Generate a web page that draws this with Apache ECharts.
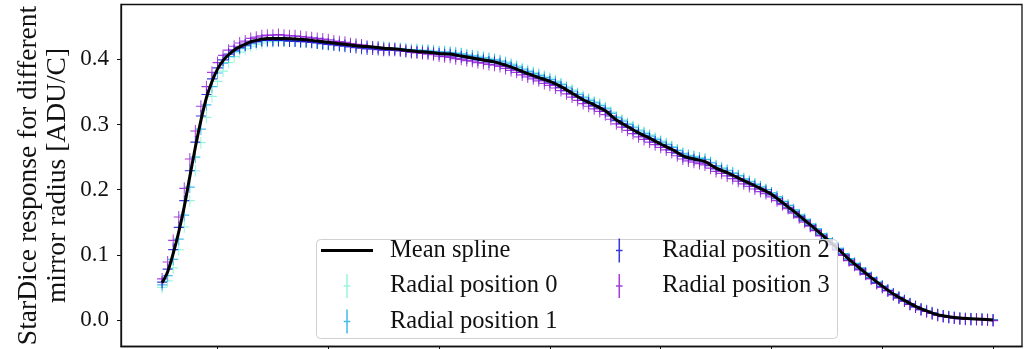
<!DOCTYPE html>
<html>
<head>
<meta charset="utf-8">
<script src="https://cdn.jsdelivr.net/npm/echarts@6/dist/echarts.min.js"></script>
<style>
html,body{margin:0;padding:0;background:#fff;}
#chart{width:1029px;height:349px;}
</style>
</head>
<body>
<div id="chart"></div>
<script>
// ---- data (wavelength in nm, response in ADU/C) ----
const splineWavelengths = [350,355,360,365,370,375,380,385,390,395,400,405,410,415,420,425,430,435,440,445,450,
  460,470,480,490,500,510,520,530,540,550,560,570,580,590,600,610,620,630,640,650,660,670,680,690,700,
  710,720,730,740,750,760,770,780,790,800,810,820,830,840,850,860,870,880,890,900,910,920,930,940,950,
  960,970,980,990,1000,1010,1020,1030,1040,1050,1060,1070,1080,1090,1100];
const meanSpline = [0.057,0.074,0.102,0.135,0.174,0.220,0.265,0.306,0.341,0.366,0.385,0.398,0.407,0.414,0.419,0.423,0.427,0.429,0.431,0.432,0.432,
  0.432,0.431,0.430,0.428,0.426,0.424,0.422,0.420,0.419,0.417,0.416,0.414,0.412,0.411,0.409,0.408,0.405,0.402,0.399,0.396,0.391,0.385,0.378,0.372,0.366,
  0.358,0.348,0.338,0.330,0.321,0.307,0.297,0.287,0.279,0.270,0.262,0.252,0.247,0.243,0.233,0.226,0.218,0.210,0.202,0.193,0.180,0.167,0.153,0.139,0.124,
  0.109,0.093,0.079,0.065,0.052,0.040,0.030,0.021,0.014,0.008,0.005,0.003,0.002,0.001,0.000];

// radial measurements, every 5 nm from 350 to 1100 nm
const radialWavelengths = [350,355,360,365,370,375,380,385,390,395,400,405,410,415,420,425,430,435,440,445,
  450,455,460,465,470,475,480,485,490,495,500,505,510,515,520,525,530,535,540,545,
  550,555,560,565,570,575,580,585,590,595,600,605,610,615,620,625,630,635,640,645,
  650,655,660,665,670,675,680,685,690,695,700,705,710,715,720,725,730,735,740,745,
  750,755,760,765,770,775,780,785,790,795,800,805,810,815,820,825,830,835,840,845,
  850,855,860,865,870,875,880,885,890,895,900,905,910,915,920,925,930,935,940,945,
  950,955,960,965,970,975,980,985,990,995,1000,1005,1010,1015,1020,1025,1030,1035,1040,1045,
  1050,1055,1060,1065,1070,1075,1080,1085,1090,1095,1100];
const radial0 = [0.050,0.060,0.080,0.108,0.143,0.183,0.229,0.272,0.311,0.343,0.366,0.382,0.395,0.404,0.411,0.416,0.420,0.423,0.425,0.427,
  0.427,0.428,0.428,0.428,0.428,0.428,0.427,0.426,0.425,0.424,0.423,0.423,0.422,0.421,0.421,0.420,0.420,0.419,0.419,0.419,
  0.418,0.418,0.417,0.417,0.416,0.415,0.415,0.414,0.414,0.413,0.412,0.412,0.411,0.410,0.409,0.407,0.406,0.405,0.403,0.402,
  0.400,0.398,0.396,0.393,0.390,0.386,0.383,0.380,0.377,0.374,0.371,0.367,0.363,0.358,0.353,0.348,0.343,0.339,0.335,0.331,
  0.326,0.319,0.312,0.307,0.302,0.297,0.292,0.288,0.284,0.279,0.275,0.271,0.266,0.261,0.256,0.253,0.251,0.249,0.247,0.242,
  0.237,0.234,0.230,0.226,0.222,0.217,0.213,0.209,0.205,0.200,0.195,0.189,0.182,0.176,0.169,0.162,0.155,0.147,0.140,0.132,
  0.125,0.118,0.110,0.102,0.094,0.087,0.080,0.072,0.065,0.058,0.052,0.046,0.040,0.035,0.030,0.025,0.021,0.017,0.014,0.011,
  0.008,0.006,0.005,0.004,0.003,0.002,0.002,0.001,0.001,0.001,0.000];
const radial1 = [0.054,0.068,0.093,0.124,0.161,0.204,0.250,0.293,0.330,0.358,0.379,0.394,0.404,0.412,0.417,0.421,0.425,0.427,0.429,0.430,
  0.430,0.430,0.430,0.429,0.429,0.428,0.428,0.427,0.426,0.425,0.424,0.424,0.423,0.422,0.421,0.421,0.420,0.419,0.419,0.418,
  0.418,0.417,0.417,0.416,0.415,0.414,0.414,0.413,0.413,0.412,0.411,0.411,0.410,0.409,0.408,0.406,0.405,0.403,0.402,0.400,
  0.399,0.397,0.394,0.391,0.388,0.384,0.381,0.378,0.375,0.372,0.369,0.365,0.361,0.356,0.351,0.346,0.341,0.337,0.333,0.329,
  0.324,0.317,0.310,0.305,0.300,0.295,0.290,0.286,0.282,0.277,0.273,0.269,0.265,0.260,0.255,0.252,0.250,0.248,0.246,0.241,
  0.236,0.232,0.229,0.225,0.221,0.216,0.212,0.208,0.204,0.200,0.195,0.189,0.182,0.176,0.169,0.161,0.154,0.147,0.140,0.132,
  0.125,0.118,0.110,0.102,0.094,0.087,0.080,0.072,0.065,0.058,0.052,0.046,0.040,0.035,0.030,0.025,0.021,0.017,0.014,0.011,
  0.008,0.006,0.005,0.004,0.003,0.002,0.002,0.001,0.001,0.001,0.000];
const radial2 = [0.058,0.078,0.108,0.142,0.183,0.229,0.273,0.313,0.346,0.370,0.387,0.399,0.408,0.414,0.418,0.422,0.425,0.427,0.429,0.429,
  0.429,0.429,0.429,0.428,0.428,0.427,0.427,0.426,0.425,0.424,0.423,0.422,0.421,0.420,0.419,0.418,0.417,0.416,0.416,0.415,
  0.414,0.414,0.414,0.413,0.412,0.411,0.411,0.410,0.410,0.409,0.408,0.407,0.407,0.405,0.404,0.402,0.401,0.399,0.398,0.396,
  0.395,0.393,0.390,0.387,0.384,0.380,0.377,0.374,0.371,0.368,0.365,0.361,0.357,0.352,0.347,0.342,0.337,0.333,0.329,0.325,
  0.320,0.313,0.306,0.301,0.296,0.291,0.286,0.282,0.278,0.273,0.269,0.265,0.261,0.256,0.251,0.248,0.246,0.244,0.242,0.237,
  0.232,0.229,0.225,0.221,0.217,0.213,0.209,0.205,0.201,0.197,0.192,0.186,0.179,0.173,0.166,0.159,0.152,0.145,0.138,0.130,
  0.123,0.116,0.108,0.100,0.092,0.085,0.078,0.071,0.064,0.057,0.051,0.045,0.039,0.034,0.029,0.024,0.020,0.016,0.013,0.010,
  0.008,0.006,0.004,0.003,0.002,0.002,0.001,0.001,0.001,0.000,0.000];
const radial3 = [0.063,0.089,0.122,0.158,0.202,0.247,0.290,0.328,0.358,0.380,0.395,0.406,0.414,0.420,0.425,0.428,0.432,0.434,0.436,0.437,
  0.437,0.438,0.437,0.436,0.436,0.435,0.434,0.433,0.432,0.431,0.430,0.428,0.427,0.426,0.424,0.423,0.422,0.420,0.419,0.418,
  0.416,0.416,0.416,0.414,0.413,0.411,0.410,0.409,0.408,0.407,0.405,0.404,0.403,0.401,0.400,0.398,0.397,0.395,0.394,0.392,
  0.391,0.389,0.386,0.383,0.380,0.376,0.373,0.370,0.367,0.363,0.360,0.356,0.352,0.347,0.342,0.337,0.332,0.328,0.324,0.320,
  0.315,0.308,0.301,0.296,0.291,0.286,0.281,0.277,0.273,0.269,0.265,0.261,0.257,0.252,0.247,0.244,0.242,0.240,0.238,0.233,
  0.228,0.225,0.221,0.217,0.213,0.209,0.205,0.201,0.197,0.194,0.189,0.183,0.177,0.171,0.164,0.157,0.150,0.144,0.137,0.129,
  0.122,0.115,0.107,0.099,0.091,0.084,0.077,0.070,0.063,0.056,0.050,0.045,0.039,0.034,0.029,0.024,0.020,0.016,0.013,0.010,
  0.007,0.005,0.004,0.003,0.002,0.001,0.001,0.001,0.000,0.000,-0.001];

const seriesNames = ['Mean spline','Radial position 0','Radial position 1','Radial position 2','Radial position 3'];
const radialColors = ['#7ff3d4','#15ade6','#0a0ad2','#8e0fd2'];
const yTickValues = [0.0,0.1,0.2,0.3,0.4];
const xTickValues = [400,500,600,700,800,900,1000,1100];

// ---- chart ----
const FONT = '"Liberation Serif","Times New Roman",serif';
const PLUS = 'path://M4.5,0h1v12h-1z M0,5.4h10v1.2h-10z';
const LEG_PLUS = 'path://M3.3,0h1.4v22h-1.4z M1,10.4h6v1.2h-6z';
const LEG_LINE = 'path://M0,0h52v2.8h-52z';

function pairs(xs, ys){ return xs.map((x,i)=>[x, ys[i]]); }

const radialSets = [radial0, radial1, radial2, radial3];
const series = radialSets.map((vals, i) => ({
  name: seriesNames[i+1],
  type: 'scatter',
  data: pairs(radialWavelengths, vals),
  symbol: PLUS,
  symbolSize: [10, 12],
  itemStyle: { color: radialColors[i] },
  z: 2,
  silent: true
}));
series.push({
  name: seriesNames[0],
  type: 'line',
  data: pairs(splineWavelengths, meanSpline),
  smooth: 0.3,
  symbol: 'none',
  lineStyle: { color: '#000', width: 3 },
  itemStyle: { color: '#000' },
  z: 3,
  silent: true
});

const legendText = { fontFamily: FONT, fontSize: 24.5, color: '#111', padding: [0,0,0,12] };

const chart = echarts.init(document.getElementById('chart'), null, {renderer: 'canvas'});
chart.setOption({
  animation: false,
  backgroundColor: '#fff',
  grid: {
    left: 121, right: 7, top: 4.5, bottom: 2.5,
    show: true, borderColor: '#111', borderWidth: 1.3,
    outerBoundsMode: 'none'
  },
  xAxis: {
    type: 'value',
    min: 312.9, max: 1126.1,
    axisLine: { show: true, onZero: false, lineStyle: { color: '#111', width: 1.3 } },
    axisTick: { show: true, length: 4, inside: false, customValues: xTickValues, lineStyle: { color: '#111' } },
    axisLabel: { show: false },
    splitLine: { show: false }
  },
  yAxis: {
    type: 'value',
    min: -0.0407, max: 0.4841,
    name: 'StarDice response for different\nmirror radius [ADU/C]',
    nameLocation: 'middle',
    nameRotate: 90,
    nameGap: 49,
    nameMoveOverlap: false,
    nameTextStyle: { fontFamily: FONT, fontSize: 27.5, color: '#111', lineHeight: 29, align: 'center' },
    axisLine: { show: true, onZero: false, lineStyle: { color: '#111', width: 1.3 } },
    axisTick: { show: true, length: 4, customValues: yTickValues, lineStyle: { color: '#111' } },
    axisLabel: {
      customValues: yTickValues,
      margin: 12,
      fontFamily: FONT, fontSize: 23, color: '#111',
      formatter: v => Number(v).toFixed(1)
    },
    splitLine: { show: false }
  },
  legend: [
    {
      orient: 'vertical', left: 321, top: 238, padding: 0,
      itemWidth: 52, itemHeight: 24, itemGap: 10.5,
      textStyle: legendText,
      data: [
        { name: seriesNames[0], icon: LEG_LINE },
        { name: seriesNames[1], icon: LEG_PLUS },
        { name: seriesNames[2], icon: LEG_PLUS }
      ],
      selectedMode: false
    },
    {
      orient: 'vertical', left: 616, top: 238, padding: 0,
      itemWidth: 52, itemHeight: 24, itemGap: 10.5,
      textStyle: legendText,
      data: [
        { name: seriesNames[3], icon: LEG_PLUS },
        { name: seriesNames[4], icon: LEG_PLUS }
      ],
      selectedMode: false
    }
  ],
  graphic: [{
    type: 'rect', z: 3.5,
    shape: { x: 316.5, y: 239.5, width: 521, height: 99, r: 4 },
    style: { fill: 'rgba(255,255,255,0.8)', stroke: '#d0d0d0', lineWidth: 1 },
    silent: true
  }],
  series: series
});
</script>
</body>
</html>
